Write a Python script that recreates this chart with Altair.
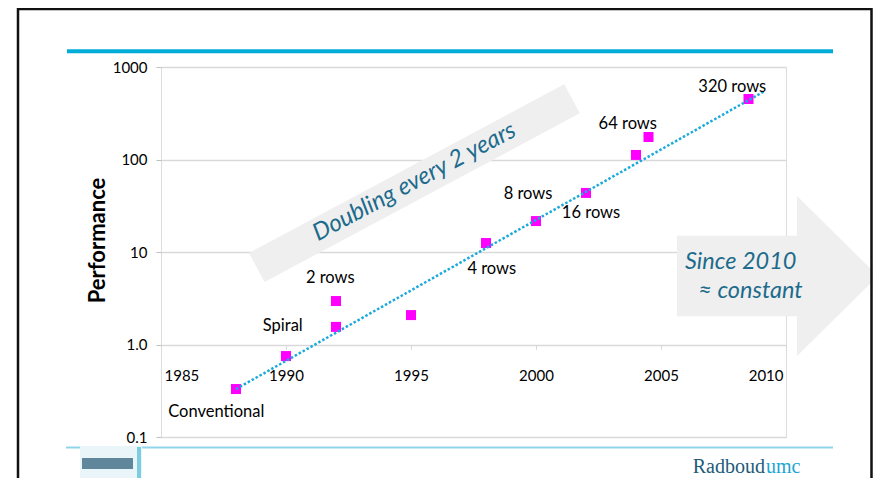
import altair as alt
import pandas as pd

# ---- chart values ----
years = [1988, 1990, 1992, 1992, 1995, 1998, 2000, 2002, 2004, 2004.5, 2008.5]
performance = [0.33, 0.75, 1.55, 2.95, 2.08, 12.5, 21.6, 43.5, 112, 175, 451]

label_text = ["Conventional", "Spiral", "2 rows", "4 rows", "8 rows", "16 rows", "64 rows", "320 rows"]
label_year = [1987.21, 1989.87, 1991.77, 1998.23, 1999.68, 2002.2, 2003.67, 2007.85]
label_perf = [0.188, 1.6, 5.2, 6.55, 42.4, 26.6, 240, 612]

trend_year = [1988, 2009.1]
trend_perf = [0.33, 540]

x_ticks = [1985, 1990, 1995, 2000, 2005, 2010]
y_ticks = [0.1, 1, 10, 100, 1000]

# ---- annotation anchors (data space) ----
band_year = [1988.83, 2001.44]
band_perf = [6.8, 454]
band_text_year = [1995.14]
band_text_perf = [57.1]

arrow_year = [2009.66]
arrow_perf = [5.5]

since_year = [2005.96]
since_perf = [7.85]
const_year = [2006.49]
const_perf = [3.79]

FONT = "Lato"
TEAL = "#1d6b8c"

ARROW_PATH = ("M-1,-0.4015 L0.194,-0.4015 L0.194,-0.796 L1,0 L0.194,0.796 "
              "L0.194,0.4015 L-1,0.4015 Z")

xs = alt.Scale(domain=[1985, 2010], nice=False, zero=False)
ys = alt.Scale(type="log", domain=[0.1, 1000], nice=False)

xaxis = alt.Axis(values=x_ticks, format="d", title=None, labelFont=FONT, labelFontSize=15,
                 labelColor="black", labelFlush=True, labelFlushOffset=-3, labelPadding=19,
                 tickSize=5, tickColor="#d9d9d9", domain=False, grid=False, offset=-92.5)
yaxis = alt.Axis(values=y_ticks,
                 labelExpr="datum.value < 0.5 ? '0.1' : (datum.value < 5 ? '1.0' : format(datum.value, 'd'))",
                 title="Performance", titleFont=FONT, titleFontSize=22, titleFontWeight="bold",
                 titleColor="black", titlePadding=3, titleY=173,
                 labelFont=FONT, labelFontSize=15, labelColor="black", labelPadding=9,
                 tickSize=5, tickColor="#bfbfbf", domain=False,
                 grid=True, gridColor="#d9d9d9", gridWidth=1.5)


def X(field):
    return alt.X(field, type="quantitative", scale=xs, axis=xaxis)


def Y(field):
    return alt.Y(field, type="quantitative", scale=ys, axis=yaxis)


one = pd.DataFrame({"k": [0]})

# ---- slide decorations ----
frame = alt.Chart(one).mark_rect(filled=False, stroke="#111111", strokeWidth=2.5).encode(
    x=alt.value(-143), x2=alt.value(710.5), y=alt.value(-58), y2=alt.value(440))
header = alt.Chart(one).mark_rect(color="#00acd8").encode(
    x=alt.value(-94), x2=alt.value(672), y=alt.value(-17.7), y2=alt.value(-13.7))
footer = alt.Chart(one).mark_rect(color="#8fd6eb").encode(
    x=alt.value(-95), x2=alt.value(672), y=alt.value(379.5), y2=alt.value(381.5))
logo_bg = alt.Chart(one).mark_rect(color="#e9f5f8").encode(
    x=alt.value(-81), x2=alt.value(-19), y=alt.value(379), y2=alt.value(420))
logo_band = alt.Chart(one).mark_rect(color="#3c6a82", opacity=0.8).encode(
    x=alt.value(-79), x2=alt.value(-28), y=alt.value(391), y2=alt.value(402))
logo_bar = alt.Chart(one).mark_rect(color="#7ccde0").encode(
    x=alt.value(-24), x2=alt.value(-20), y=alt.value(380), y2=alt.value(420))
radboud = alt.Chart(one).mark_text(text="Radboud", font="Liberation Serif", fontSize=20,
                                   color="#1d5c7a", align="right", baseline="alphabetic").encode(
    x=alt.value(604), y=alt.value(406))
umc = alt.Chart(one).mark_text(text="umc", font="Liberation Serif", fontSize=20,
                               color="#19a6d1", align="left", baseline="alphabetic").encode(
    x=alt.value(605), y=alt.value(406))

# ---- annotations ----
band = alt.Chart(pd.DataFrame({"year": band_year, "perf": band_perf})).mark_line(
    color="#efefef", strokeWidth=33, strokeCap="butt").encode(x=X("year"), y=Y("perf"))
band_text = alt.Chart(pd.DataFrame({"year": band_text_year, "perf": band_text_perf})).mark_text(
    text="Doubling every 2 years", angle=332, font=FONT, fontStyle="italic", fontSize=24,
    color=TEAL, align="center", baseline="middle").encode(x=X("year"), y=Y("perf"))

arrow = alt.Chart(pd.DataFrame({"year": arrow_year, "perf": arrow_perf})).mark_point(
    shape=ARROW_PATH, filled=True, size=40401, color="#efefef", opacity=1, strokeWidth=0).encode(
    x=X("year"), y=Y("perf"))

since = alt.Chart(pd.DataFrame({"year": since_year, "perf": since_perf})).mark_text(
    text="Since 2010", font=FONT, fontStyle="italic", fontSize=23.5, color=TEAL,
    align="left", baseline="middle").encode(x=X("year"), y=Y("perf"))
const = alt.Chart(pd.DataFrame({"year": const_year, "perf": const_perf})).mark_text(
    text="\u2248 constant", font=FONT, fontStyle="italic", fontSize=23.5, color=TEAL,
    align="left", baseline="middle").encode(x=X("year"), y=Y("perf"))

# ---- data ----
points = alt.Chart(pd.DataFrame({"year": years, "perf": performance})).mark_point(
    shape="square", filled=True, size=100, color="#ff00ff", opacity=1).encode(
    x=X("year"), y=Y("perf"))
trend = alt.Chart(pd.DataFrame({"year": trend_year, "perf": trend_perf})).mark_line(
    color="#1aa9dc", strokeWidth=2.5, strokeDash=[2.5, 2], strokeCap="butt").encode(
    x=X("year"), y=Y("perf"))
labels = alt.Chart(pd.DataFrame({"year": label_year, "perf": label_perf, "label": label_text})).mark_text(
    font=FONT, fontSize=16.5, color="black", align="center", baseline="middle").encode(
    x=X("year"), y=Y("perf"), text="label:N")

chart = alt.layer(
    band, arrow, band_text, since, const, points, trend, labels,
    frame, header, footer, logo_bg, logo_band, logo_bar, radboud, umc,
).properties(
    width=625, height=370,
    autosize=alt.AutoSizeParams(type="none"),
    padding={"left": 153, "top": 59, "right": 87, "bottom": 41},
).configure_view(
    stroke="#8c8c8c", strokeWidth=2
).configure(background="white")

chart.save("out.html", embed_options={"renderer": "svg", "actions": False})
